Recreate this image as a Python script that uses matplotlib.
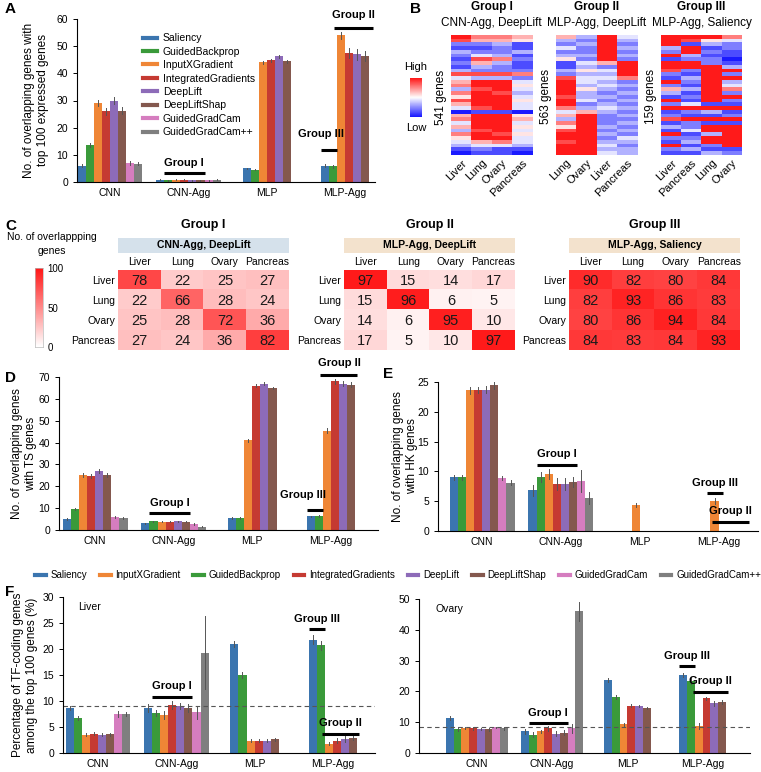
import numpy as np
import matplotlib
matplotlib.use("Agg")
import matplotlib.pyplot as plt
from matplotlib.colors import LinearSegmentedColormap
from matplotlib.lines import Line2D
from matplotlib.patches import Rectangle

plt.rcParams['font.family'] = ['Liberation Sans', 'DejaVu Sans']
plt.rcParams['axes.linewidth'] = 0.8

W, H = 761, 772

methods = ['Saliency', 'GuidedBackprop', 'InputXGradient', 'IntegratedGradients',
           'DeepLift', 'DeepLiftShap', 'GuidedGradCam', 'GuidedGradCam++']
colors = ['#3b75af', '#3a9a3a', '#ef8636', '#c53a32', '#8d6bb8', '#84584e', '#d57dbf', '#7f7f7f']
categories = ['CNN', 'CNN-Agg', 'MLP', 'MLP-Agg']
bottom_legend_order = [0, 2, 1, 3, 4, 5, 6, 7]

# A: overlap with top 100 expressed genes
a_values = [[6.0, 13.5, 29.0, 26.0, 30.0, 26.3, 7.0, 6.8],
            [0.9, 0.7, 0.8, 0.9, 0.6, 0.6, 0.7, 0.8],
            [5.0, 4.6, 44.0, 44.8, 46.2, 44.4],
            [6.0, 5.8, 54.0, 47.5, 47.0, 46.5]]
a_errors = [[0.6, 0.7, 1.2, 1.2, 1.3, 1.2, 0.6, 0.6],
            [0.2, 0.2, 0.2, 0.2, 0.2, 0.2, 0.2, 0.2],
            [0.3, 0.3, 0.7, 0.6, 0.6, 0.5],
            [0.5, 0.5, 1.3, 2.0, 2.0, 1.8]]

# D: overlap with TS genes
d_values = [[5.0, 9.5, 25.2, 24.8, 27.0, 25.2, 5.8, 5.5],
            [3.0, 4.0, 3.8, 3.8, 4.0, 3.8, 2.8, 1.5],
            [5.5, 5.5, 41.0, 66.0, 67.0, 65.0],
            [6.2, 6.5, 45.5, 68.0, 67.0, 66.5]]
d_errors = [[0.4, 0.4, 1.0, 1.0, 1.0, 0.8, 0.4, 0.4],
            [0.3, 0.3, 0.3, 0.3, 0.3, 0.3, 0.3, 0.3],
            [0.3, 0.3, 0.8, 0.8, 0.6, 0.6],
            [0.4, 0.4, 1.0, 1.2, 1.0, 1.0]]

# E: overlap with HK genes
e_values = [[9.0, 9.0, 23.6, 23.7, 23.7, 24.5, 8.9, 8.1],
            [6.8, 9.1, 9.6, 7.9, 7.9, 8.2, 8.4, 5.5],
            [0.0, 0.0, 4.4, 0.0, 0.0, 0.0],
            [0.0, 0.0, 5.0, 0.0, 0.0, 0.0]]
e_errors = [[0.4, 0.4, 0.6, 0.5, 0.6, 0.7, 0.4, 0.4],
            [1.0, 0.8, 0.8, 1.0, 1.0, 0.8, 1.8, 1.0],
            [0.0, 0.0, 0.3, 0.0, 0.0, 0.0],
            [0.0, 0.0, 0.5, 0.0, 0.0, 0.0]]

# F: percentage of TF-coding genes
f_liver_values = [[8.6, 6.8, 3.5, 3.7, 3.5, 3.6, 7.5, 7.5],
                  [8.6, 7.7, 7.3, 9.2, 9.0, 8.7, 7.8, 19.3],
                  [20.9, 15.0, 2.4, 2.4, 2.4, 2.6],
                  [21.8, 20.7, 1.8, 2.4, 2.7, 2.9]]
f_liver_errors = [[0.4, 0.4, 0.3, 0.3, 0.3, 0.3, 0.5, 0.4],
                  [0.8, 0.5, 0.8, 0.8, 0.6, 0.8, 1.2, 7.0],
                  [0.6, 0.6, 0.3, 0.3, 0.3, 0.3],
                  [0.8, 0.9, 0.3, 0.4, 0.5, 0.4]]
f_ovary_values = [[11.3, 7.8, 8.1, 8.0, 7.8, 7.7, 8.3, 8.0],
                  [7.0, 6.0, 7.0, 8.0, 6.3, 6.6, 8.0, 46.0],
                  [23.8, 18.2, 9.3, 15.4, 15.3, 14.6],
                  [25.4, 23.5, 8.9, 17.7, 16.1, 16.6]]
f_ovary_errors = [[0.6, 0.5, 0.3, 0.4, 0.4, 0.4, 0.3, 0.4],
                  [0.8, 0.8, 0.6, 0.8, 0.8, 0.8, 1.5, 3.0],
                  [0.6, 0.7, 0.5, 0.4, 0.4, 0.4],
                  [0.7, 1.2, 1.0, 0.6, 0.7, 0.6]]
liver_baseline = 9.0
ovary_baseline = 8.3

# B: attribution heatmaps, coarse row bands (0 = low, 9 = high)
b_titles = ['Group I', 'Group II', 'Group III']
b_subtitles = ['CNN-Agg, DeepLift', 'MLP-Agg, DeepLift', 'MLP-Agg, Saliency']
b_gene_counts = ['541 genes', '563 genes', '159 genes']
b_columns = [['Liver', 'Lung', 'Ovary', 'Pancreas'],
             ['Lung', 'Ovary', 'Liver', 'Pancreas'],
             ['Liver', 'Pancreas', 'Lung', 'Ovary']]
b1_rows = ["9776", "8665", "2231", "1121", "3223", "2431", "1872", "2631",
           "1321", "3222", "8887", "4332", "6994", "7995", "3894", "7983",
           "5994", "8995", "6994", "4894", "0110", "6995", "7996", "4994",
           "6995", "3894", "7985", "5994", "4674", "3443", "1211", "0110"]
b2_rows = ["6394", "3293", "2392", "4293", "2292", "3393", "5292", "1469",
           "1329", "3549", "2339", "8447", "9432", "9343", "9532", "9323",
           "8332", "9423", "9232", "7343", "4632", "6923", "3922", "7923",
           "5932", "8923", "9932", "9924", "8933", "9942", "9933", "9943"]
b3_rows = ["9997", "9854", "9132", "3912", "2921", "9311", "1220", "9921",
           "9993", "8299", "2192", "1399", "9293", "2194", "6397", "3192",
           "1299", "9192", "2411", "9999", "1231", "2112", "8999", "1211",
           "3299", "1499", "9139", "2299", "1399", "9129", "2311", "1132"]

# C: overlap matrices
c_titles = ['Group I', 'Group II', 'Group III']
c_subtitles = ['CNN-Agg, DeepLift', 'MLP-Agg, DeepLift', 'MLP-Agg, Saliency']
tissues = ['Liver', 'Lung', 'Ovary', 'Pancreas']
c_group1 = [[78, 22, 25, 27], [22, 66, 28, 24], [25, 28, 72, 36], [27, 24, 36, 82]]
c_group2 = [[97, 15, 14, 17], [15, 96, 6, 5], [14, 6, 95, 10], [17, 5, 10, 97]]
c_group3 = [[90, 82, 80, 84], [82, 93, 86, 83], [80, 86, 94, 84], [84, 83, 84, 93]]

fig = plt.figure(figsize=(W / 100, H / 100), dpi=100)


def px_axes(left, top, right, bottom):
    return fig.add_axes([left / W, 1 - bottom / H, (right - left) / W, (bottom - top) / H])


def fig_text(x, y, s, **kw):
    fig.text(x / W, 1 - y / H, s, **kw)


BW = 0.103


def slot_x(i, j, n):
    return i + (j - (n - 1) / 2) * BW


def bar_panel(ax, values, errors, xlim, ylim, yticks):
    for i, (vals, errs) in enumerate(zip(values, errors)):
        n = len(vals)
        for j in range(n):
            x = slot_x(i, j, n)
            ax.bar(x, vals[j], BW, color=colors[j], linewidth=0)
            if errs[j] > 0:
                ax.plot([x, x], [vals[j] - errs[j], vals[j] + errs[j]], color='#555555', lw=0.7)
    ax.set_xlim(*xlim)
    ax.set_ylim(*ylim)
    ax.set_yticks(yticks)
    ax.set_xticks(range(len(categories)))
    ax.set_xticklabels(categories, fontsize=7.5)
    ax.tick_params(axis='x', length=0, pad=4)
    ax.tick_params(axis='y', labelsize=7.5, length=3, width=0.7)
    for s in ['top', 'right']:
        ax.spines[s].set_visible(False)


def set_ylabel_px(ax, text, right_px, left_px, width_px):
    # right_px: where the right edge of the (rotated) label sits
    ax.set_ylabel(text, fontsize=8.5)
    ax.yaxis.set_label_coords((right_px - left_px) / width_px, 0.5)


def group_mark(ax, x0, x1, y, label, ty, dx=0.0):
    ax.plot([x0, x1], [y, y], color='black', lw=2.2, solid_capstyle='butt', clip_on=False)
    ax.text((x0 + x1) / 2 + dx, ty, label, ha='center', va='center', fontsize=8,
            fontweight='bold', clip_on=False)


def span(i, j0, j1, n, pad=0.0):
    return slot_x(i, j0, n) - BW / 2 - pad, slot_x(i, j1, n) + BW / 2 + pad


# ---------------- A ----------------
axA = px_axes(77, 19, 375, 182)
bar_panel(axA, a_values, a_errors, (-0.42, 3.38), (0, 60), range(0, 61, 10))
set_ylabel_px(axA, 'No. of overlapping genes with\ntop 100 expressed genes', 49, 77, 298)
group_mark(axA, *span(1, 1, 5, 8), 3.3, 'Group I', 7.0)
group_mark(axA, *span(3, 0, 1, 6), 11.8, 'Group III', 17.5, dx=-0.1)
group_mark(axA, *span(3, 2, 5, 6, pad=0.04), 56.8, 'Group II', 61.5)
handles = [Line2D([], [], color=c, lw=3) for c in colors]
axA.legend(handles, methods, loc='upper left', bbox_to_anchor=(0.19, 0.97), frameon=False,
           fontsize=7.5, handlelength=1.3, handletextpad=0.6, labelspacing=0.33)
fig_text(5, 9, 'A', fontsize=11, fontweight='bold', va='center')

# ---------------- B ----------------
bwr = LinearSegmentedColormap.from_list('bwr2', ['#1a1aff', '#ffffff', '#ff1a1a'])
b_data = [b1_rows, b2_rows, b3_rows]
b_left = [451, 556, 661]
for k in range(3):
    ax = px_axes(b_left[k], 35, b_left[k] + 81, 155)
    mat = np.array([[int(c) for c in r] for r in b_data[k]])
    ax.imshow(mat, cmap=bwr, vmin=0, vmax=9, aspect='auto', interpolation='nearest')
    ax.set_yticks([])
    ax.set_xticks(range(4))
    ax.set_xticklabels(b_columns[k], rotation=45, ha='right', rotation_mode='anchor', fontsize=8)
    ax.tick_params(axis='x', length=0, pad=2)
    for s in ax.spines.values():
        s.set_visible(False)
    cx = b_left[k] + 40.5
    fig_text(cx, 7, b_titles[k], ha='center', va='center', fontsize=8.5, fontweight='bold')
    fig_text(cx, 23, b_subtitles[k], ha='center', va='center', fontsize=8.5)
    fig_text(b_left[k] - 10, 97, b_gene_counts[k], ha='center', va='center', fontsize=8.5, rotation=90)

axBc = px_axes(410, 78, 422, 117)
axBc.imshow(np.linspace(9, 0, 50).reshape(-1, 1), cmap=bwr, vmin=0, vmax=9, aspect='auto')
axBc.set_axis_off()
fig_text(416, 67, 'High', ha='center', va='center', fontsize=8)
fig_text(416, 128, 'Low', ha='center', va='center', fontsize=8)
fig_text(410, 9, 'B', fontsize=11, fontweight='bold', va='center')

# ---------------- C ----------------
wr = LinearSegmentedColormap.from_list('wr', ['#ffffff', '#ff1414'])
c_data = [c_group1, c_group2, c_group3]
c_left = [118, 344, 569]
header_colors = ['#d5e1eb', '#f3e2cd', '#f3e2cd']
for k in range(3):
    ax = px_axes(c_left[k], 270, c_left[k] + 171, 350)
    mat = np.array(c_data[k])
    ax.imshow(mat, cmap=wr, vmin=0, vmax=100, aspect='auto')
    for r in range(4):
        for c in range(4):
            ax.text(c, r + 0.05, str(mat[r, c]), ha='center', va='center', fontsize=10.5, color='#1a1a1a')
    ax.set_xticks(range(4))
    ax.set_xticklabels(tissues, fontsize=7.5)
    ax.xaxis.tick_top()
    ax.set_yticks(range(4))
    ax.set_yticklabels(tissues, fontsize=7.5)
    ax.tick_params(length=0, pad=2)
    for s in ax.spines.values():
        s.set_visible(False)
    ax.add_patch(Rectangle((0, 1 + 17 / 80), 1, 15 / 80, transform=ax.transAxes,
                           facecolor=header_colors[k], edgecolor='none', clip_on=False))
    ax.text(0.5, 1 + 24.5 / 80, c_subtitles[k], transform=ax.transAxes, ha='center', va='center',
            fontsize=7.5, fontweight='bold')
    ax.text(0.5, 1 + 45 / 80, c_titles[k], transform=ax.transAxes, ha='center', va='center',
            fontsize=9, fontweight='bold')

axCc = px_axes(35, 268, 43, 347)
axCc.imshow(np.linspace(100, 0, 100).reshape(-1, 1), cmap=wr, vmin=0, vmax=100, aspect='auto',
            extent=(0, 1, 0, 100))
axCc.set_xticks([])
axCc.yaxis.tick_right()
axCc.set_yticks([0, 50, 100])
axCc.tick_params(axis='y', length=0, labelsize=7, pad=3)
for s in axCc.spines.values():
    s.set_color('#bbbbbb')
    s.set_linewidth(0.5)
fig_text(52, 244, 'No. of overlappping\ngenes', ha='center', va='center', fontsize=7.5, linespacing=1.4)
fig_text(5, 226, 'C', fontsize=11, fontweight='bold', va='center')

# ---------------- D ----------------
axD = px_axes(59, 377, 378, 530)
bar_panel(axD, d_values, d_errors, (-0.46, 3.6), (0, 70), range(0, 71, 10))
set_ylabel_px(axD, 'No. of overlapping genes\nwith TS genes', 37, 59, 319)
group_mark(axD, *span(1, 1, 5, 8), 7.9, 'Group I', 12.5)
group_mark(axD, *span(3, 0, 1, 6), 9.2, 'Group III', 16.0, dx=-0.15)
group_mark(axD, *span(3, 2, 5, 6, pad=0.03), 71.0, 'Group II', 76.5)
fig_text(5, 378, 'D', fontsize=11, fontweight='bold', va='center')

# ---------------- E ----------------
axE = px_axes(438, 382, 758, 531)
bar_panel(axE, e_values, e_errors, (-0.56, 3.5), (0, 25), range(0, 26, 5))
set_ylabel_px(axE, 'No. of overlapping genes\nwith HK genes', 418, 438, 320)
group_mark(axE, *span(1, 1, 5, 8), 11.1, 'Group I', 12.9)
group_mark(axE, *span(3, 2, 2, 6, pad=0.05), 6.4, 'Group III', 8.0)
group_mark(axE, *span(3, 3, 5, 6, pad=0.08), 1.5, 'Group II', 3.4)
fig_text(383, 374, 'E', fontsize=11, fontweight='bold', va='center')

# ---------------- legend ----------------
fig.legend([handles[i] for i in bottom_legend_order], [methods[i] for i in bottom_legend_order],
           loc='center', bbox_to_anchor=(398 / W, 1 - 575 / H), ncol=8, frameon=False,
           fontsize=7, handlelength=1.1, handletextpad=0.5, columnspacing=1.3)

# ---------------- F ----------------
axF1 = px_axes(63, 597, 375, 753)
bar_panel(axF1, f_liver_values, f_liver_errors, (-0.45, 3.54), (0, 30), range(0, 31, 5))
axF1.axhline(liver_baseline, color='#555555', lw=0.8, ls=(0, (4, 3)))
set_ylabel_px(axF1, 'Percentage of TF-coding genes\namong the top 100 genes (%)', 38, 63, 312)
axF1.text(0.05, 0.97, 'Liver', transform=axF1.transAxes, fontsize=7.5, va='top')
group_mark(axF1, *span(1, 1, 5, 8), 10.8, 'Group I', 12.8)
group_mark(axF1, *span(3, 0, 1, 6), 23.8, 'Group III', 25.8)
group_mark(axF1, *span(3, 2, 5, 6, pad=0.03), 3.7, 'Group II', 5.8)

axF2 = px_axes(419, 599, 750, 753)
bar_panel(axF2, f_ovary_values, f_ovary_errors, (-0.77, 3.63), (0, 50), range(0, 51, 10))
axF2.axhline(ovary_baseline, color='#555555', lw=0.8, ls=(0, (4, 3)))
axF2.text(0.05, 0.97, 'Ovary', transform=axF2.transAxes, fontsize=7.5, va='top')
group_mark(axF2, *span(1, 1, 5, 8), 9.7, 'Group I', 13.0)
group_mark(axF2, *span(3, 0, 1, 6), 28.2, 'Group III', 31.5)
group_mark(axF2, *span(3, 2, 5, 6, pad=0.03), 19.8, 'Group II', 23.4)
fig_text(5, 592, 'F', fontsize=11, fontweight='bold', va='center')

fig.savefig('out.png', dpi=100)
